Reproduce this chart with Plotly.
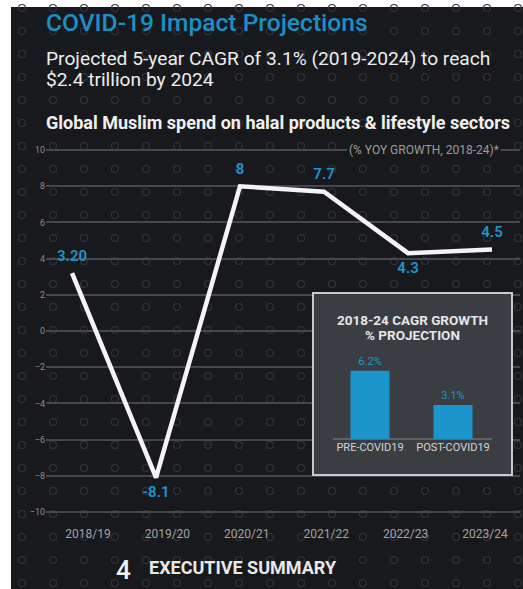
import numpy as np
import plotly.graph_objects as go

W, H = 523, 589

# Year-on-year growth of global Muslim spend (%)
periods = ["2018/19", "2019/20", "2020/21", "2021/22", "2022/23", "2023/24"]
yoy_growth = [3.2, -8.1, 8.0, 7.7, 4.3, 4.5]
yoy_labels = ["3.20", "-8.1", "8", "7.7", "4.3", "4.5"]
label_side = ["top center", "bottom center", "top center", "top center",
              "bottom center", "top center"]

# 2018-24 CAGR projection inset
cagr_scenarios = ["PRE-COVID19", "POST-COVID19"]
cagr_values = [6.2, 3.1]
cagr_labels = ["6.2%", "3.1%"]

y_ticks = [10, 8, 6, 4, 2, 0, -2, -4, -6, -8, -10]

BG = "#18191d"
BLUE = "#1c95cc"
FONT = "Roboto"


def fx(px):
    return px / W


def fy(py):
    return 1 - py / H


fig = go.Figure()

# background ring pattern (pixel-space helper axes)
gx, gy = np.meshgrid(22 + 31 * np.arange(17), 8 + 23 * np.arange(26))
fig.add_trace(go.Scatter(
    x=gx.ravel(), y=gy.ravel(), mode="markers", xaxis="x", yaxis="y",
    marker=dict(symbol="circle-open", size=7, color="#33353a",
                line=dict(width=1.1, color="#33353a")),
    hoverinfo="skip", showlegend=False))

# main growth line (transparent markers push the value labels off the line)
fig.add_trace(go.Scatter(
    x=periods, y=yoy_growth, xaxis="x2", yaxis="y2",
    mode="lines+markers+text", text=yoy_labels, textposition=label_side,
    textfont=dict(family=FONT, size=15, color=BLUE, weight=600),
    marker=dict(size=12, color="rgba(0,0,0,0)"),
    line=dict(color="#f4f4f4", width=4.5),
    cliponaxis=False, showlegend=False, hoverinfo="skip"))

# period labels axis (shares the y scale, carries the category ticks)
fig.add_trace(go.Scatter(
    x=periods, y=yoy_growth, xaxis="x3", yaxis="y2", mode="lines",
    line=dict(width=0, color="rgba(0,0,0,0)"), opacity=0,
    showlegend=False, hoverinfo="skip"))

# inset bars
fig.add_trace(go.Bar(
    x=cagr_scenarios, y=cagr_values, xaxis="x4", yaxis="y4",
    width=0.47, marker=dict(color=BLUE, line=dict(width=0)),
    text=cagr_labels, textposition="outside",
    textfont=dict(family=FONT, size=11, color=BLUE),
    cliponaxis=False, showlegend=False, hoverinfo="skip"))

shapes = [
    dict(type="rect", xref="paper", yref="paper", x0=fx(11), x1=1,
         y0=0, y1=fy(7), fillcolor=BG, line=dict(width=0), layer="below"),
    dict(type="rect", xref="x4", yref="y4", x0=-0.687, x1=1.711,
         y0=-3.27, y1=13.27, fillcolor="#3a3d42",
         line=dict(color="#c9cacb", width=2), layer="between"),
    dict(type="line", xref="x4", yref="y4", x0=-0.446, x1=1.47,
         y0=0, y1=0, line=dict(color="#6c6e72", width=1.5), layer="between"),
]

annotations = [
    dict(text="COVID-19 Impact Projections", x=fx(44), y=fy(22),
         font=dict(family=FONT, size=24.6, color="#1b8fc6", weight=500)),
    dict(text="Projected 5-year CAGR of 3.1% (2019-2024) to reach",
         x=fx(44), y=fy(58), font=dict(family=FONT, size=19.2, color="#ededed")),
    dict(text="$2.4 trillion by 2024", x=fx(44), y=fy(80),
         font=dict(family=FONT, size=19.2, color="#ededed")),
    dict(text="<b>Global Muslim spend on halal products & lifestyle sectors</b>",
         x=fx(44), y=fy(123), font=dict(family=FONT, size=18, color="#f0f0f0")),
    dict(text="(% YOY GROWTH, 2018-24)*", x=fx(501), y=fy(150), xanchor="right",
         bgcolor=BG, borderpad=1,
         font=dict(family=FONT, size=12, color="#9c9c9c")),
    dict(text="4", x=fx(114), y=fy(570),
         font=dict(family=FONT, size=26, color="#f2f2f2", weight=500)),
    dict(text="<b>EXECUTIVE SUMMARY</b>", x=fx(147), y=fy(567),
         font=dict(family=FONT, size=18, color="#e8e8e8")),
    dict(text="<b>2018-24 CAGR GROWTH</b>", x=fx(412), y=fy(320), xanchor="center",
         font=dict(family=FONT, size=13.5, color="#e6e6e6")),
    dict(text="<b>% PROJECTION</b>", x=fx(412), y=fy(335), xanchor="center",
         font=dict(family=FONT, size=13.5, color="#e6e6e6")),
]
for a in annotations:
    a.setdefault("xref", "paper")
    a.setdefault("yref", "paper")
    a.setdefault("xanchor", "left")
    a.setdefault("yanchor", "middle")
    a.setdefault("showarrow", False)

main_dom_x = [fx(46), fx(520)]

fig.update_layout(
    width=W, height=H, margin=dict(l=0, r=0, t=0, b=0),
    paper_bgcolor="#ffffff", plot_bgcolor="rgba(0,0,0,0)",
    showlegend=False, shapes=shapes, annotations=annotations,
    xaxis=dict(domain=[0, 1], range=[0, W], visible=False, fixedrange=True),
    yaxis=dict(domain=[0, 1], range=[H, 0], visible=False, fixedrange=True),
    xaxis2=dict(domain=main_dom_x, anchor="y2", type="category",
                categoryorder="array", categoryarray=periods,
                range=[-0.31, 5.333], showticklabels=False, showgrid=False,
                zeroline=False, showline=False, ticks=""),
    yaxis2=dict(domain=[fy(521), fy(141)], anchor="x2", range=[-10.5, 10.5],
                tickvals=y_ticks, ticks="", showline=False, zeroline=False,
                gridcolor="#45474c", gridwidth=1.6,
                tickfont=dict(family=FONT, size=9, color="#8c8c8c")),
    xaxis3=dict(overlaying="x2", anchor="y2", type="category",
                categoryorder="array", categoryarray=periods,
                range=[-0.529, 5.441], showgrid=False, zeroline=False,
                showline=False, ticks="", ticklabelstandoff=4,
                tickfont=dict(family=FONT, size=12, color="#a3a3a3")),
    xaxis4=dict(domain=[fx(311), fx(514)], anchor="free", position=fy(439),
                type="category", range=[-0.711, 1.735], showgrid=False,
                zeroline=False, showline=False, ticks="",
                tickfont=dict(family=FONT, size=11, color="#d4d4d4")),
    yaxis4=dict(domain=[fy(477), fy(291)], anchor="x4",
                range=[-3.4545, 13.455], visible=False),
)

fig.write_html("out.html")
